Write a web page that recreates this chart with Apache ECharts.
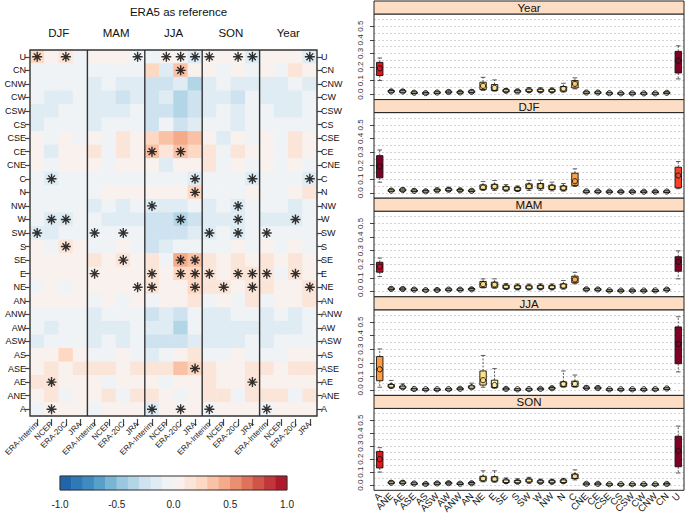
<!DOCTYPE html>
<html><head><meta charset="utf-8">
<script src="https://cdn.jsdelivr.net/npm/echarts@6/dist/echarts.min.js"></script>
<style>html,body{margin:0;padding:0;background:#fff}#c{width:685px;height:516px}</style>
</head><body><div id="c"></div>
<script>
// ---------------- DATA ----------------
const heatRows = ['U','CN','CNW','CW','CSW','CS','CSE','CE','CNE','C','N','NW','W','SW','S','SE','E','NE','AN','ANW','AW','ASW','AS','ASE','AE','ANE','A'];
const seasons = ['DJF','MAM','JJA','SON','Year'];
const datasets = ['ERA-Interim','NCEP','ERA-20C','JRA'];
// columns: DJF(4) MAM(4) JJA(4) SON(4) Year(4), each ERA-Interim, NCEP, ERA-20C, JRA
const heatValues = [
 [0.25,0.05,0.15,-0.05, 0.05,0.05,0.05,-0.05, -0.05,0.05,0.05,-0.15, 0.05,0.05,0.05,-0.15, 0.05,0.05,0.05,-0.15], // U
 [-0.05,-0.05,-0.05,-0.05, -0.05,-0.05,-0.05,-0.05, 0.25,-0.15,0.35,0.05, 0.05,-0.05,0.05,-0.05, 0.05,-0.05,0.15,0.05], // CN
 [-0.05,-0.05,-0.05,-0.05, -0.15,-0.05,-0.15,-0.15, -0.25,-0.25,-0.15,-0.35, -0.15,-0.05,-0.15,-0.15, -0.15,-0.15,-0.05,-0.15], // CNW
 [-0.05,-0.15,-0.15,-0.05, -0.15,-0.15,-0.25,-0.15, -0.25,-0.15,-0.35,-0.25, -0.15,-0.15,-0.25,-0.05, -0.15,-0.15,-0.15,-0.05], // CW
 [-0.15,-0.15,-0.05,-0.05, -0.15,-0.15,-0.15,-0.05, -0.25,-0.25,-0.35,-0.25, -0.15,-0.05,-0.15,-0.05, -0.05,-0.15,-0.15,-0.05], // CSW
 [-0.15,-0.05,-0.05,-0.05, -0.15,-0.05,-0.05,-0.05, -0.25,-0.05,-0.25,-0.15, -0.05,-0.05,-0.15,-0.05, -0.05,-0.05,-0.05,-0.05], // CS
 [0.05,-0.05,0.05,-0.05, 0.05,-0.05,0.15,0.05, 0.25,0.35,0.45,0.35, 0.05,-0.15,0.05,-0.05, 0.05,-0.05,0.15,0.05], // CSE
 [0.05,-0.15,0.05,0.05, 0.15,-0.05,0.15,0.05, 0.35,0.15,0.35,0.25, 0.15,-0.05,0.15,0.05, 0.05,-0.05,0.15,0.05], // CE
 [0.05,-0.05,0.05,0.05, 0.05,-0.05,0.05,0.05, 0.05,-0.15,0.05,0.05, 0.15,-0.05,0.05,-0.05, 0.05,-0.05,0.05,-0.05], // CNE
 [-0.05,-0.15,-0.05,-0.05, -0.05,-0.05,-0.05,-0.05, -0.05,-0.05,-0.05,-0.15, -0.05,-0.05,-0.05,-0.15, -0.05,-0.05,-0.05,-0.15], // C
 [-0.05,-0.05,-0.05,-0.05, -0.05,0.05,0.05,0.05, 0.05,0.05,0.05,0.25, -0.05,-0.05,-0.05,0.05, -0.05,-0.05,0.05,0.15], // N
 [-0.05,-0.05,-0.05,-0.05, -0.15,-0.05,-0.15,-0.05, -0.15,-0.15,-0.15,-0.05, -0.15,-0.05,-0.15,-0.05, -0.05,-0.05,-0.15,-0.05], // NW
 [-0.05,-0.15,-0.15,-0.05, -0.05,-0.15,-0.15,-0.15, -0.25,-0.25,-0.35,-0.25, -0.15,-0.15,-0.15,-0.05, -0.15,-0.15,-0.15,-0.05], // W
 [-0.15,-0.15,-0.05,-0.05, -0.05,-0.05,-0.05,-0.05, -0.25,-0.25,-0.25,-0.15, -0.15,-0.05,-0.15,-0.05, -0.05,-0.05,-0.05,-0.05], // SW
 [0.05,-0.05,0.15,0.05, -0.05,-0.05,0.05,-0.05, -0.25,-0.15,-0.05,-0.05, -0.05,-0.05,0.05,-0.05, 0.05,-0.05,0.05,-0.05], // S
 [0.05,0.05,0.05,0.05, 0.15,0.05,0.15,0.05, 0.15,-0.05,0.45,0.35, 0.15,0.05,0.15,0.05, 0.15,0.05,0.15,0.05], // SE
 [0.05,0.05,0.05,0.05, 0.05,0.05,0.05,0.05, 0.15,0.05,0.25,0.25, 0.15,0.05,0.15,0.15, 0.15,-0.05,0.15,0.05], // E
 [-0.05,0.05,-0.05,0.05, 0.05,0.05,0.05,0.05, 0.15,0.05,0.05,0.25, 0.15,0.15,0.05,0.15, 0.15,0.05,0.05,0.15], // NE
 [0.05,0.05,0.05,0.05, -0.05,0.05,-0.05,0.05, -0.05,0.05,0.05,0.15, -0.05,0.05,-0.05,0.15, -0.05,0.05,0.05,0.15], // AN
 [-0.05,-0.05,-0.05,-0.05, -0.15,-0.05,-0.05,-0.05, -0.25,-0.15,-0.25,-0.05, -0.15,-0.15,-0.05,-0.05, -0.15,-0.05,-0.15,-0.05], // ANW
 [-0.05,-0.15,-0.05,-0.05, -0.15,-0.15,-0.15,-0.05, -0.15,-0.15,-0.35,-0.05, -0.15,-0.15,-0.15,-0.15, -0.15,-0.15,-0.15,-0.05], // AW
 [-0.15,-0.05,-0.05,-0.05, -0.15,-0.05,-0.15,-0.05, -0.25,-0.25,-0.25,-0.15, -0.15,-0.15,-0.15,-0.05, -0.15,-0.05,-0.05,-0.05], // ASW
 [0.05,0.05,0.25,0.05, -0.05,-0.05,0.05,-0.05, -0.15,-0.05,0.05,0.15, -0.05,-0.05,0.05,-0.05, -0.05,-0.05,0.05,0.05], // AS
 [0.05,0.15,0.05,0.15, 0.15,0.15,0.05,0.15, 0.15,0.15,0.35,0.25, 0.15,0.05,0.05,0.15, 0.15,0.05,0.15,0.15], // ASE
 [0.15,0.15,0.05,0.05, 0.05,-0.05,0.05,0.05, 0.05,-0.05,0.05,0.05, 0.15,0.05,0.05,0.15, 0.05,0.05,0.05,0.05], // AE
 [0.05,0.15,-0.05,0.05, 0.05,0.15,-0.05,0.15, 0.15,0.05,-0.05,0.05, 0.15,0.15,-0.05,0.15, 0.15,0.15,-0.05,0.15], // ANE
 [-0.05,0.05,0.05,0.05, -0.05,0.05,0.05,0.05, -0.15,0.05,0.05,0.05, -0.05,0.05,0.05,0.05, -0.05,0.05,0.05,0.05]  // A
];
// significant cells: [row name, column indices]
const significant = [
 ['U',[0,2,7,9,10,11,12,14,15,19]], ['CN',[10]], ['CE',[8,10]], ['C',[1,11,15,19]], ['N',[11]],
 ['NW',[8,14]], ['W',[1,2,10,14,18]], ['SW',[0,4,6,12,14,16]], ['S',[2]], ['SE',[6,10,11]],
 ['E',[4,8,10,11,12,14,15,16,18]], ['NE',[7,8,11,13,15,19]], ['ASE',[11]], ['AE',[1,15]], ['A',[1,8,10,12,16]]
];
const colorbarTicks = [-1.0,-0.5,0.0,0.5,1.0];

const boxTypes = ['A','ANE','AE','ASE','AS','ASW','AW','ANW','AN','NE','E','SE','S','SW','W','NW','N','C','CNE','CE','CSE','CS','CSW','CW','CNW','CN','U'];
const boxPanels = ['Year','DJF','MAM','JJA','SON'];
// [lower whisker, Q1, median, Q3, upper whisker]
const boxYear = [[0.10,0.137,0.19,0.234,0.266],[0.01,0.015,0.02,0.027,0.035],[0.01,0.014,0.02,0.026,0.034],[0.003,0.007,0.011,0.016,0.022],[0.002,0.005,0.008,0.012,0.017],[0.004,0.008,0.012,0.017,0.023],[0.006,0.011,0.016,0.022,0.03],[0.005,0.009,0.013,0.019,0.026],[0.007,0.012,0.017,0.024,0.032],[0.027,0.034,0.061,0.088,0.124],[0.022,0.027,0.046,0.071,0.105],[0.012,0.018,0.025,0.033,0.042],[0.01,0.015,0.02,0.028,0.036],[0.013,0.02,0.028,0.037,0.048],[0.012,0.019,0.027,0.036,0.046],[0.012,0.018,0.026,0.035,0.045],[0.015,0.022,0.04,0.056,0.08],[0.039,0.046,0.076,0.10,0.12],[0.004,0.008,0.012,0.017,0.023],[0.004,0.008,0.012,0.017,0.023],[0.002,0.004,0.007,0.011,0.015],[0.002,0.004,0.006,0.01,0.014],[0.002,0.004,0.006,0.01,0.014],[0.002,0.004,0.006,0.01,0.014],[0.002,0.004,0.006,0.01,0.014],[0.004,0.007,0.01,0.015,0.02],[0.112,0.156,0.246,0.315,0.356]];
const boxDJF = [[0.078,0.11,0.195,0.273,0.315],[0.008,0.012,0.016,0.022,0.03],[0.01,0.014,0.02,0.027,0.036],[0.006,0.01,0.014,0.02,0.028],[0.004,0.008,0.011,0.016,0.022],[0.008,0.013,0.018,0.025,0.034],[0.01,0.016,0.022,0.03,0.04],[0.008,0.013,0.018,0.024,0.032],[0.006,0.01,0.014,0.02,0.027],[0.017,0.025,0.04,0.058,0.083],[0.017,0.028,0.046,0.062,0.09],[0.012,0.02,0.032,0.045,0.06],[0.01,0.017,0.028,0.038,0.05],[0.017,0.03,0.048,0.065,0.09],[0.018,0.03,0.05,0.068,0.092],[0.014,0.024,0.04,0.056,0.078],[0.012,0.02,0.035,0.05,0.068],[0.046,0.054,0.085,0.144,0.176],[0.004,0.007,0.01,0.014,0.019],[0.004,0.007,0.01,0.014,0.019],[0.002,0.005,0.008,0.012,0.016],[0.002,0.005,0.008,0.012,0.016],[0.002,0.005,0.008,0.012,0.016],[0.002,0.005,0.008,0.012,0.016],[0.002,0.005,0.008,0.012,0.016],[0.003,0.006,0.009,0.013,0.018],[0.03,0.037,0.127,0.188,0.23]];
const boxMAM = [[0.109,0.141,0.182,0.214,0.245],[0.008,0.013,0.018,0.024,0.032],[0.008,0.012,0.017,0.023,0.03],[0.005,0.009,0.013,0.018,0.025],[0.003,0.006,0.009,0.013,0.018],[0.004,0.007,0.01,0.015,0.02],[0.005,0.009,0.013,0.018,0.024],[0.005,0.009,0.013,0.018,0.024],[0.006,0.01,0.015,0.021,0.028],[0.025,0.029,0.053,0.073,0.092],[0.022,0.03,0.05,0.068,0.092],[0.014,0.022,0.034,0.045,0.058],[0.012,0.02,0.03,0.042,0.055],[0.012,0.019,0.029,0.041,0.054],[0.012,0.02,0.031,0.043,0.056],[0.012,0.02,0.03,0.042,0.055],[0.016,0.024,0.04,0.055,0.08],[0.056,0.063,0.087,0.112,0.14],[0.006,0.01,0.015,0.02,0.026],[0.006,0.01,0.014,0.019,0.025],[0.002,0.004,0.007,0.01,0.014],[0.002,0.004,0.006,0.009,0.013],[0.002,0.004,0.006,0.009,0.013],[0.002,0.004,0.006,0.009,0.013],[0.002,0.004,0.007,0.01,0.014],[0.005,0.009,0.013,0.018,0.024],[0.092,0.148,0.218,0.255,0.298]];
const boxJJA = [[0.02,0.068,0.152,0.246,0.302],[0.012,0.02,0.03,0.04,0.07],[0.008,0.013,0.02,0.028,0.045],[0.002,0.004,0.007,0.01,0.014],[0.001,0.003,0.005,0.008,0.011],[0.001,0.003,0.005,0.008,0.011],[0.002,0.004,0.006,0.009,0.013],[0.003,0.006,0.009,0.013,0.018],[0.008,0.013,0.02,0.03,0.05],[0.02,0.036,0.072,0.14,0.254],[0.012,0.018,0.036,0.072,0.157],[0.002,0.005,0.008,0.012,0.017],[0.001,0.003,0.005,0.008,0.011],[0.002,0.004,0.006,0.009,0.013],[0.003,0.005,0.008,0.012,0.016],[0.006,0.009,0.013,0.018,0.025],[0.02,0.025,0.045,0.06,0.14],[0.02,0.025,0.045,0.065,0.11],[0.006,0.01,0.015,0.021,0.03],[0.006,0.01,0.014,0.02,0.028],[0.001,0.003,0.005,0.008,0.011],[0.001,0.003,0.005,0.008,0.011],[0.001,0.003,0.005,0.008,0.011],[0.001,0.003,0.005,0.008,0.011],[0.002,0.004,0.006,0.009,0.013],[0.004,0.007,0.011,0.015,0.02],[0.133,0.193,0.338,0.464,0.539]];
const boxSON = [[0.10,0.132,0.20,0.259,0.288],[0.008,0.013,0.018,0.025,0.034],[0.008,0.013,0.018,0.025,0.034],[0.005,0.008,0.012,0.017,0.023],[0.003,0.006,0.009,0.013,0.018],[0.005,0.009,0.013,0.018,0.025],[0.006,0.01,0.015,0.021,0.028],[0.004,0.008,0.011,0.016,0.022],[0.006,0.01,0.014,0.02,0.027],[0.025,0.032,0.05,0.068,0.11],[0.022,0.03,0.045,0.065,0.11],[0.013,0.02,0.03,0.04,0.055],[0.012,0.018,0.026,0.035,0.048],[0.015,0.024,0.035,0.046,0.06],[0.012,0.018,0.025,0.034,0.045],[0.012,0.018,0.025,0.034,0.045],[0.014,0.02,0.03,0.04,0.052],[0.04,0.05,0.068,0.085,0.117],[0.004,0.007,0.01,0.014,0.019],[0.004,0.007,0.01,0.014,0.019],[0.002,0.004,0.007,0.01,0.014],[0.002,0.004,0.007,0.01,0.014],[0.002,0.004,0.007,0.01,0.014],[0.002,0.004,0.007,0.01,0.014],[0.002,0.004,0.007,0.01,0.014],[0.003,0.006,0.009,0.013,0.018],[0.093,0.141,0.263,0.376,0.454]];
const boxTicks = [0,0.1,0.2,0.3,0.4,0.5];
const boxGridLines = [0,0.05,0.1,0.15,0.2,0.25,0.3,0.35,0.4,0.45,0.5,0.55];

// ---------------- STYLE / LAYOUT ----------------
const FONT = '"Liberation Sans", Arial, Helvetica, sans-serif';
const RDBU = ['#2166AC','#4393C3','#92C5DE','#D1E5F0','#F7F7F7','#FDDBC7','#F4A582','#D6604D','#B2182B'];
const YLORRD = ['#FFFFCC','#FFEDA0','#FED976','#FEB24C','#FD8D3C','#FC4E2A','#E31A1C','#BD0026','#800026'];
function hex2rgb(h){return [1,3,5].map(i=>parseInt(h.substr(i,2),16));}
function ramp(cols,t){
  t=Math.min(Math.max(t,0),1); const n=cols.length-1; const p=t*n; const i=Math.min(Math.floor(p),n-1); const f=p-i;
  const a=hex2rgb(cols[i]), b=hex2rgb(cols[i+1]);
  return 'rgb('+a.map((v,k)=>Math.round(v+(b[k]-v)*f)).join(',')+')';
}
const NB = 20;
const pieces = [];
const binCenters = [];
for(let i=0;i<NB;i++){
  const lo=-1+2*i/NB, hi=-1+2*(i+1)/NB;
  pieces.push({gte:lo-1e-9, lt:hi-1e-9, color:ramp(RDBU,i/(NB-1))});
  binCenters.push((lo+hi)/2);
}

const heatLabels = [];
seasons.forEach(()=>datasets.forEach(d=>heatLabels.push(d)));
const heatData = [];
heatValues.forEach((row,r)=>row.forEach((v,c)=>heatData.push([c,r,v])));
const starData = [];
significant.forEach(([name,cols])=>{const r=heatRows.indexOf(name); cols.forEach(c=>starData.push([c,r]));});

const HG = {left:30, top:50, width:287, height:366};
const BX = {left:374, width:310, strip:13, plotH:85.6, pitch:98.6, top0:1};
const boxSets = [boxYear, boxDJF, boxMAM, boxJJA, boxSON];

const grids = [
  {left:HG.left, top:HG.top, width:HG.width, height:HG.height, show:true, borderColor:'#333', borderWidth:1.4, backgroundColor:'transparent', z:5},
  {left:60, top:476, width:227, height:14, show:true, borderColor:'#333', borderWidth:1, backgroundColor:'transparent', z:5}
];
const xAxes = [
  {type:'category', gridIndex:0, data:heatLabels, position:'bottom', offset:3, z:4,
   axisLine:{show:false}, axisTick:{show:true, alignWithLabel:true, length:7, lineStyle:{color:'#444', width:1.2}},
   axisLabel:{rotate:45, interval:0, fontSize:8, margin:4, color:'#222', fontFamily:FONT},
   splitLine:{show:false}},
  {type:'category', gridIndex:0, data:seasons, position:'top', z:4,
   axisLine:{show:false}, axisTick:{show:false},
   axisLabel:{fontSize:11.5, margin:11, color:'#111', fontFamily:FONT}},
  {type:'category', gridIndex:1, data:binCenters.map(v=>v.toFixed(2)), show:false},
  {type:'value', gridIndex:1, min:-1, max:1, interval:0.5, position:'bottom',
   axisLine:{show:false}, axisTick:{show:false}, splitLine:{show:false},
   axisLabel:{fontSize:10, margin:9, color:'#222', fontFamily:FONT, formatter:v=>v.toFixed(1)}}
];
const yAxes = [
  {type:'category', gridIndex:0, data:heatRows, inverse:true, position:'left',
   axisLine:{show:false}, axisTick:{show:true, alignWithLabel:true, length:5, lineStyle:{color:'#444', width:1.2}},
   axisLabel:{fontSize:9, margin:4, color:'#111', fontFamily:FONT}},
  {type:'category', gridIndex:0, data:heatRows, inverse:true, position:'right',
   axisLine:{show:false}, axisTick:{show:true, alignWithLabel:true, length:5, lineStyle:{color:'#444', width:1.2}},
   axisLabel:{fontSize:9, margin:4, color:'#111', fontFamily:FONT}},
  {type:'category', gridIndex:1, data:['c'], show:false}
];
const series = [
  {type:'heatmap', xAxisIndex:0, yAxisIndex:0, data:heatData, itemStyle:{borderWidth:0}, emphasis:{disabled:true}, z:2},
  {type:'heatmap', xAxisIndex:2, yAxisIndex:2, data:binCenters.map((v,i)=>[i,0,v]), itemStyle:{borderWidth:0}, emphasis:{disabled:true}, z:2},
  {type:'scatter', xAxisIndex:0, yAxisIndex:0, data:starData, z:6,
   symbol:'path://M5 0L5 10M0 5L10 5M1.6 1.6L8.4 8.4M8.4 1.6L1.6 8.4', symbolSize:10,
   itemStyle:{color:'none', borderColor:'#000', borderWidth:1.4}, emphasis:{disabled:true}}
];
// panel separators in the heatmap, at the category boundaries between seasons
series.push({type:'custom', xAxisIndex:0, yAxisIndex:0, z:7, silent:true,
  data:[4,8,12,16].map(c=>[c]),
  renderItem:(params, api)=>{
    const c = api.value(0);
    const a = api.coord([c-1, 0]), b = api.coord([c, 0]);
    const x = (a[0]+b[0])/2;
    const cs = params.coordSys;
    return {type:'line', shape:{x1:x, y1:cs.y, x2:x, y2:cs.y+cs.height}, style:{stroke:'#333', lineWidth:1.4}};
  }});

const graphics = [];
boxSets.forEach((box,k)=>{
  const top = BX.top0 + k*BX.pitch;
  const gi = grids.length;
  grids.push({left:BX.left, top:top+BX.strip, width:BX.width, height:BX.plotH, show:true, borderColor:'#222', borderWidth:1, backgroundColor:'transparent', z:5});
  const last = k===boxSets.length-1;
  xAxes.push({type:'category', gridIndex:gi, data:boxTypes,
    axisLine:{show:false}, axisTick:{show:false}, splitLine:{show:false},
    axisLabel:{show:last, rotate:45, interval:0, fontSize:9.5, margin:4, color:'#111', fontFamily:FONT}});
  yAxes.push({type:'value', gridIndex:gi, min:-0.04, max:0.59,
    axisLine:{show:false}, splitLine:{show:false},
    axisTick:{show:true, length:4, customValues:boxTicks, lineStyle:{color:'#444'}},
    axisLabel:{rotate:90, fontSize:8, margin:10, color:'#333', fontFamily:FONT, customValues:boxTicks, formatter:v=>v.toFixed(1)}});
  const maxMed = Math.max(...box.map(d=>d[2]));
  const colors = box.map(d=>ramp(YLORRD, d[2]/maxMed));
  series.push({type:'custom', xAxisIndex:xAxes.length-1, yAxisIndex:yAxes.length-1, z:3,
    data: box.map((d,i)=>[i, ...d]), encode:{x:0, y:[1,2,3,4,5]},
    renderItem:(params, api)=>{
      const i = api.value(0);
      const pLo=api.coord([i,api.value(1)]), pQ1=api.coord([i,api.value(2)]), pMed=api.coord([i,api.value(3)]), pQ3=api.coord([i,api.value(4)]), pHi=api.coord([i,api.value(5)]);
      const cx = pMed[0], hw = 3.2, cap = 2.3;
      const wl = {stroke:'#333', lineWidth:0.8, lineDash:[2,1.5]};
      const sl = {stroke:'#333', lineWidth:0.8};
      return {type:'group', children:[
        {type:'line', shape:{x1:cx,y1:pQ3[1],x2:cx,y2:pHi[1]}, style:wl},
        {type:'line', shape:{x1:cx,y1:pQ1[1],x2:cx,y2:pLo[1]}, style:wl},
        {type:'line', shape:{x1:cx-cap,y1:pHi[1],x2:cx+cap,y2:pHi[1]}, style:sl},
        {type:'line', shape:{x1:cx-cap,y1:pLo[1],x2:cx+cap,y2:pLo[1]}, style:sl},
        {type:'rect', shape:{x:cx-hw, y:pQ3[1], width:2*hw, height:Math.max(pQ1[1]-pQ3[1],1.5)}, style:{fill:colors[params.dataIndex], stroke:'#111', lineWidth:0.9}},
        {type:'circle', shape:{cx:cx, cy:pMed[1], r:2.6}, style:{fill:'none', stroke:'#111', lineWidth:0.9}}
      ]};
    },
    markLine:{silent:true, symbol:'none', z:1, label:{show:false}, animation:false,
      lineStyle:{color:'#c8c8c8', type:[2,2], width:0.8}, emphasis:{disabled:true},
      data: boxGridLines.map(v=>({yAxis:v}))}
  });
  graphics.push({type:'rect', z:10, shape:{x:BX.left, y:top, width:BX.width, height:BX.strip}, style:{fill:'#FDDEC4', stroke:'#222', lineWidth:1}});
  graphics.push({type:'text', z:11, style:{text:boxPanels[k], x:BX.left+BX.width/2, y:top+BX.strip/2+0.5, textAlign:'center', align:'center', textVerticalAlign:'middle', verticalAlign:'middle', font:'11.5px '+FONT, fill:'#111'}});
});

const option = {
  animation:false,
  backgroundColor:'#fff',
  title:{text:'ERA5 as reference', left:173.5, top:1, textAlign:'center', textStyle:{fontSize:11.5, fontWeight:'normal', color:'#111', fontFamily:FONT}},
  grid:grids, xAxis:xAxes, yAxis:yAxes,
  visualMap:{type:'piecewise', show:false, seriesIndex:[0,1], dimension:2, pieces:pieces},
  graphic:graphics,
  series:series
};
const chart = echarts.init(document.getElementById('c'), null, {renderer:'svg', width:685, height:516});
chart.setOption(option);
</script>
</body></html>
